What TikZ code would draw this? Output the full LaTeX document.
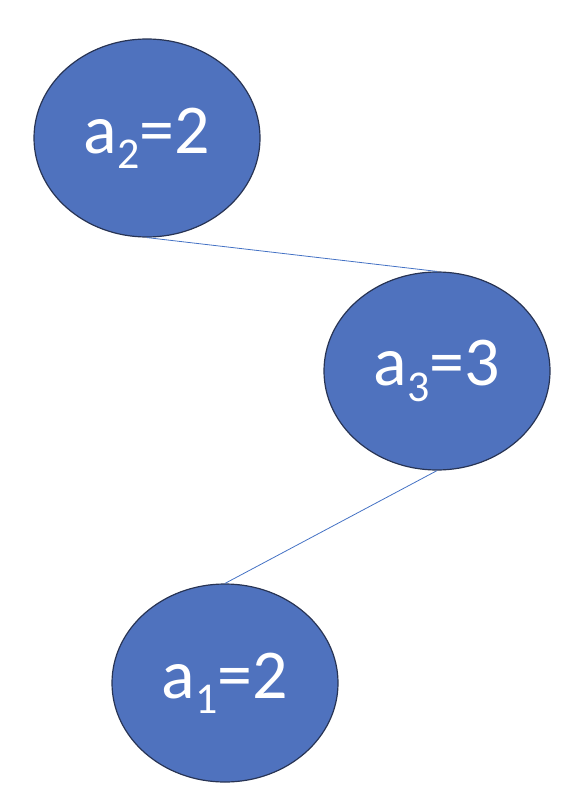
\documentclass[tikz,border=0pt]{standalone}
\usepackage{fontspec}
\setmainfont{Carlito}
\usepackage{xcolor}
\definecolor{nodeblue}{RGB}{79,114,190}
\definecolor{nodeedge}{RGB}{40,52,84}
\definecolor{linkblue}{RGB}{68,114,196}
\usetikzlibrary{shapes.geometric}
\newcommand{\lab}[2]{a\raisebox{-0.22em}{\fontsize{44}{44}\selectfont #1}=#2}

\begin{document}
\begin{tikzpicture}[x=1pt,y=-1pt,
  valnode/.style={ellipse,draw=nodeedge,line width=1.2pt,fill=nodeblue,
    minimum width=226pt,minimum height=198pt,inner sep=0pt,
    text=white,font=\fontsize{70}{70}\selectfont},
  linkline/.style={draw=linkblue,line width=0.8pt}
]
  \useasboundingbox (0,0) rectangle (566,794);

  % the three values
  \node[valnode] (a2) at (147,138) {\lab{2}{2}};
  \node[valnode] (a3) at (437,371) {\lab{3}{3}};
  \node[valnode] (a1) at (225,683) {\lab{1}{2}};

  % links between them
  \draw[linkline] (a2.south) -- (a3.north);
  \draw[linkline] (a3.south) -- (a1.north);
\end{tikzpicture}
\end{document}
